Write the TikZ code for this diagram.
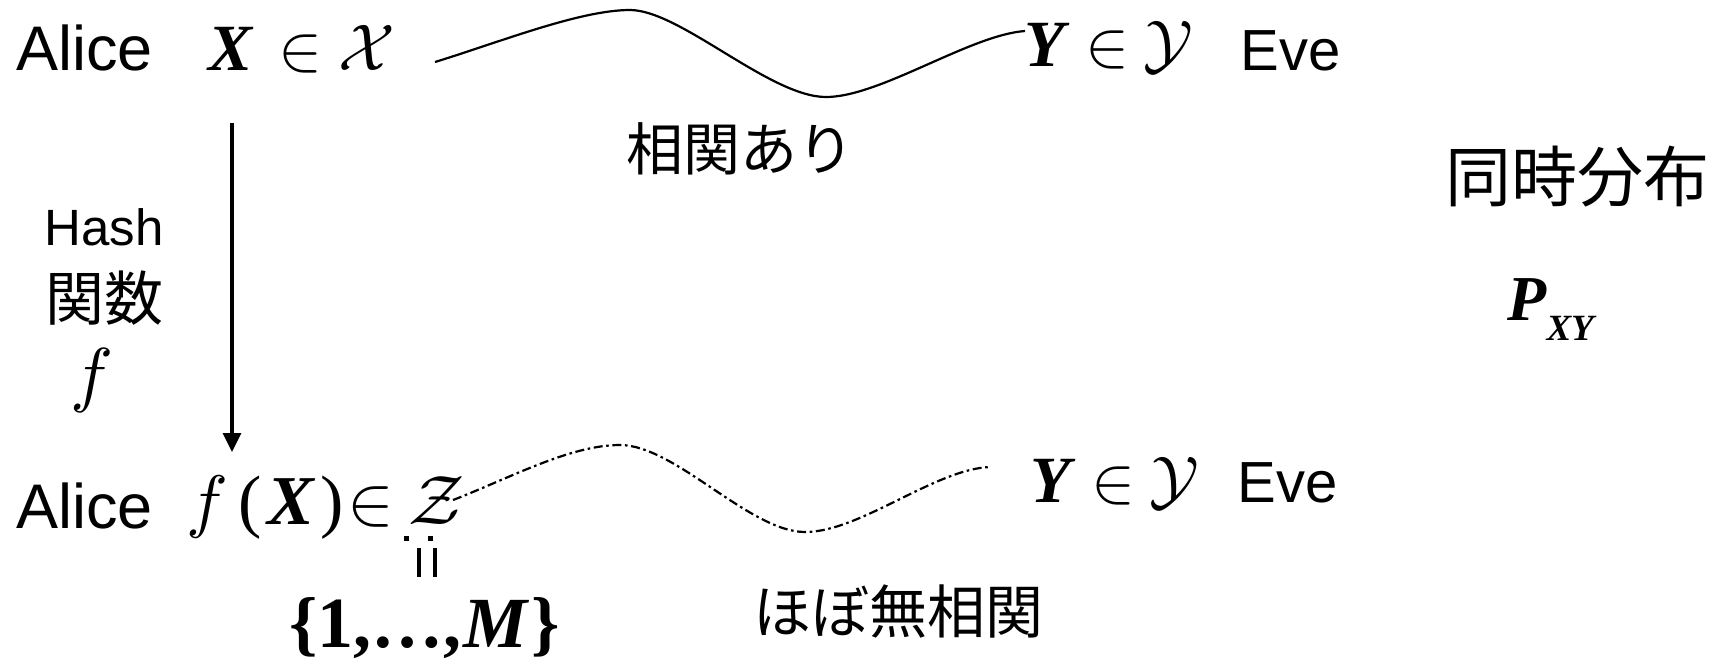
\documentclass[tikz,border=0pt]{standalone}
\DeclareFontShape{OML}{cmm}{m}{it}{<-> cmmi10}{}
\DeclareFontShape{OMS}{cmsy}{m}{n}{<-> cmsy10}{}
\usepackage{fontspec}
\setmainfont{Liberation Sans}
\newfontfamily\jp{Noto Sans CJK JP}
\newfontfamily\tms{Liberation Serif}
\usetikzlibrary{arrows.meta}
\newcommand{\bx}[1]{{\tms\bfseries\itshape #1}}
\tikzset{
  lab/.style={inner sep=0pt, anchor=base west},
  jtxt/.style={inner sep=0pt, anchor=center},
  corr/.style={line width=1.1pt},
  weak/.style={line width=1.1pt, dash pattern=on 4.5pt off 1.8pt on 1.3pt off 1.8pt},
  harrow/.style={line width=1.6pt, -{Triangle[width=9pt,length=9.5pt]}},
}
\begin{document}
\begin{tikzpicture}[x=0.5pt,y=-0.5pt]
\useasboundingbox (0,0) rectangle (1718,661);
% top row
\node[lab, font=\fontsize{31.5}{36}\selectfont] (aliceT) at (16,70) {Alice};
\node[lab, font=\fontsize{33}{40}\selectfont] (xT) at (208,70) {\bx{X}\hspace{13pt}$\in$\hspace{8pt}$\mathcal{X}$};
\node[lab, font=\fontsize{33}{40}\selectfont] (yT) at (1024,66) {\bx{Y}\hspace{10.5pt}$\in$\hspace{7pt}$\mathcal{Y}$};
\node[lab, font=\fontsize{29}{34}\selectfont] (eveT) at (1240,70) {Eve};
\node[jtxt, font=\fontsize{28.5}{32}\selectfont\jp] (soukan) at (740,149) {相関あり};
% right
\node[jtxt, font=\fontsize{33}{40}\selectfont\jp] (douji) at (1577,177) {同時分布};
\node[lab, font=\fontsize{32}{38}\selectfont] (pxy) at (1507,320) {\bx{P}\raisebox{-10pt}{\fontsize{18.5}{22}\selectfont\bx{XY}}};
% left labels
\node[inner sep=0pt, anchor=base, font=\fontsize{25.5}{30}\selectfont] (hash) at (104,245) {Hash};
\node[jtxt, font=\fontsize{29.5}{34}\selectfont\jp] (kansu) at (105,298) {関数};
\node[jtxt, font=\fontsize{36}{42}\selectfont] (fl) at (92,380) {$f$};
% arrow
\coordinate (aS) at (232,123);
\coordinate (aE) at (232,452);
\draw[harrow] (aS) -- (aE);
% bottom row
\node[lab, font=\fontsize{31.5}{36}\selectfont] (aliceB) at (16,528) {Alice};
\node[lab, font=\fontsize{35}{42}\selectfont] (fx) at (186,524) {$f$\hspace{5pt}{\tms(}\hspace{3pt}\bx{X}\hspace{3pt}{\tms)}\hspace{2pt}$\in$\hspace{7pt}$\mathcal{Z}$};
\node[lab, font=\fontsize{33}{40}\selectfont] (yB) at (1030,502) {\bx{Y}\hspace{10.5pt}$\in$\hspace{7pt}$\mathcal{Y}$};
\node[lab, font=\fontsize{29}{34}\selectfont] (eveB) at (1237,502) {Eve};
\node[lab, font=\fontsize{36}{42}\selectfont\tms\bfseries] (setM) at (289,647) {\{1,\ldots,\hspace{1pt}\textit{M}\hspace{1pt}\}};
\node[jtxt, font=\fontsize{29}{34}\selectfont\jp] (hobo) at (898,611) {ほぼ無相関};
% rotated approx-equal mark
\fill (404,536) rectangle (409,541);
\fill (428,536) rectangle (433,541);
\fill (416.5,548) rectangle (420.5,577);
\fill (432.5,548) rectangle (436.5,577);
% curves
\coordinate (t0) at (435,62);
\coordinate (t1) at (1025,31);
\draw[corr] (t0) .. controls (500,42) and (580,10) .. (630,10)
   .. controls (680,10) and (770,97) .. (826,97)
   .. controls (880,97) and (970,35) .. (t1);
\coordinate (b0) at (453,500);
\coordinate (b1) at (990,467);
\draw[weak] (b0) .. controls (510,478) and (570,445) .. (620,445)
   .. controls (675,445) and (750,532) .. (805,532)
   .. controls (860,532) and (935,469) .. (b1);
\end{tikzpicture}
\end{document}
